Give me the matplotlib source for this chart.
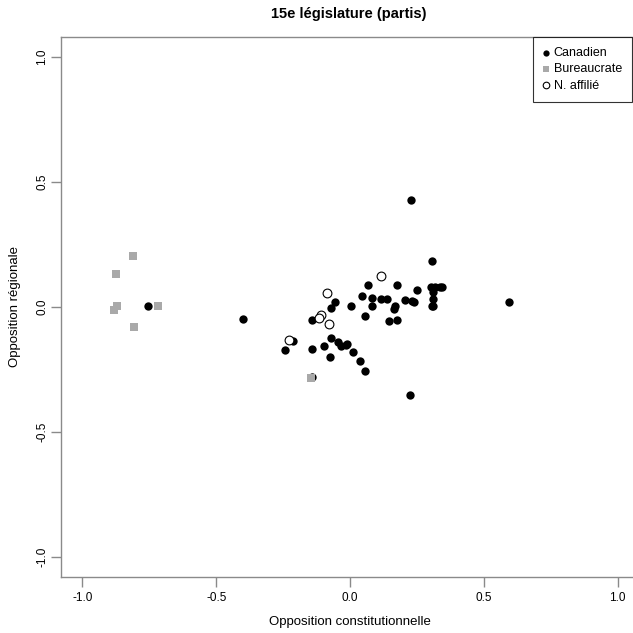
import matplotlib
matplotlib.use("Agg")
import matplotlib.pyplot as plt

plt.rcParams['font.family'] = ['Liberation Sans', 'DejaVu Sans']

# Canadien (filled black circles)
can_x = [-0.755, -0.40, 0.066, 0.174, -0.055, -0.072, 0.045, 0.082, 0.116, 0.139,
         0.083, 0.003, 0.168, 0.163, 0.057, 0.146, 0.174, -0.143, -0.214, -0.243,
         -0.141, -0.097, -0.070, -0.046, -0.035, -0.015, -0.010, 0.012, -0.075, 0.036,
         0.057, 0.229, 0.307, 0.249, 0.303, 0.318, 0.336, 0.345, 0.312, 0.312,
         0.305, 0.312, 0.205, 0.232, 0.239, 0.593, 0.224, -0.141]
can_y = [0.003, -0.049, 0.089, 0.088, 0.020, -0.003, 0.043, 0.036, 0.032, 0.032,
         0.005, 0.003, 0.004, -0.008, -0.035, -0.057, -0.053, -0.051, -0.135, -0.172,
         -0.168, -0.155, -0.125, -0.140, -0.156, -0.152, -0.147, -0.180, -0.199, -0.216,
         -0.255, 0.427, 0.184, 0.067, 0.080, 0.079, 0.079, 0.081, 0.060, 0.032,
         0.004, 0.004, 0.028, 0.024, 0.021, 0.020, -0.352, -0.280]

# Bureaucrate (gray squares)
bur_x = [-0.812, -0.876, -0.871, -0.882, -0.719, -0.806, -0.144]
bur_y = [0.203, 0.132, 0.005, -0.011, 0.005, -0.080, -0.284]

# N. affilié (open circles)
naf_x = [0.115, -0.085, -0.109, -0.116, -0.079, -0.229]
naf_y = [0.123, 0.056, -0.032, -0.045, -0.068, -0.133]

fig = plt.figure(figsize=(6.33, 6.33), dpi=100)
ax = fig.add_axes([61 / 633, 56 / 633, 578 / 633, 540 / 633])

ax.scatter(can_x, can_y, s=36, c='black', marker='o', linewidths=0, label='Canadien', zorder=3)
ax.scatter(bur_x, bur_y, s=36, c='#a9a9a9', marker='s', linewidths=0, label='Bureaucrate', zorder=3)
ax.scatter(naf_x, naf_y, s=40, facecolors='white', edgecolors='black', marker='o',
           linewidths=0.8, label='N. affilié', zorder=4)

ax.set_xlim(-1.08, 1.08)
ax.set_ylim(-1.08, 1.08)
ax.set_xticks([-1.0, -0.5, 0.0, 0.5, 1.0])
ax.set_yticks([-1.0, -0.5, 0.0, 0.5, 1.0])
ax.set_xticklabels(['-1.0', '-0.5', '0.0', '0.5', '1.0'])
ax.set_yticklabels(['-1.0', '-0.5', '0.0', '0.5', '1.0'], rotation=90, va='center')

for sp in ax.spines.values():
    sp.set_color('#8a8a8a')
    sp.set_linewidth(1.0)
ax.tick_params(direction='out', length=7, width=1.0, color='#8a8a8a',
               labelsize=8.5, pad=4)
ax.tick_params(axis='y', pad=2)

fig.text(350 / 633, 1 - 622 / 633, 'Opposition constitutionnelle', ha='center', va='center',
         fontsize=9.5)
fig.text(15 / 633, 1 - 307 / 633, 'Opposition régionale', ha='center', va='center',
         rotation=90, fontsize=9.5)
fig.text(349 / 633, 1 - 14 / 633, '15e législature (partis)', ha='center', va='center',
         fontsize=10.5, fontweight='bold')

leg = ax.legend(loc='upper right', bbox_to_anchor=(632 / 633, 1 - 37 / 633),
                bbox_transform=fig.transFigure, frameon=True, fancybox=False,
                fontsize=9, handletextpad=0.4, borderaxespad=0, borderpad=0.8,
                labelspacing=0.35, handlelength=0.5, markerscale=0.75)
leg.get_frame().set_edgecolor('black')
leg.get_frame().set_linewidth(0.8)

fig.savefig('out.png', dpi=100)
